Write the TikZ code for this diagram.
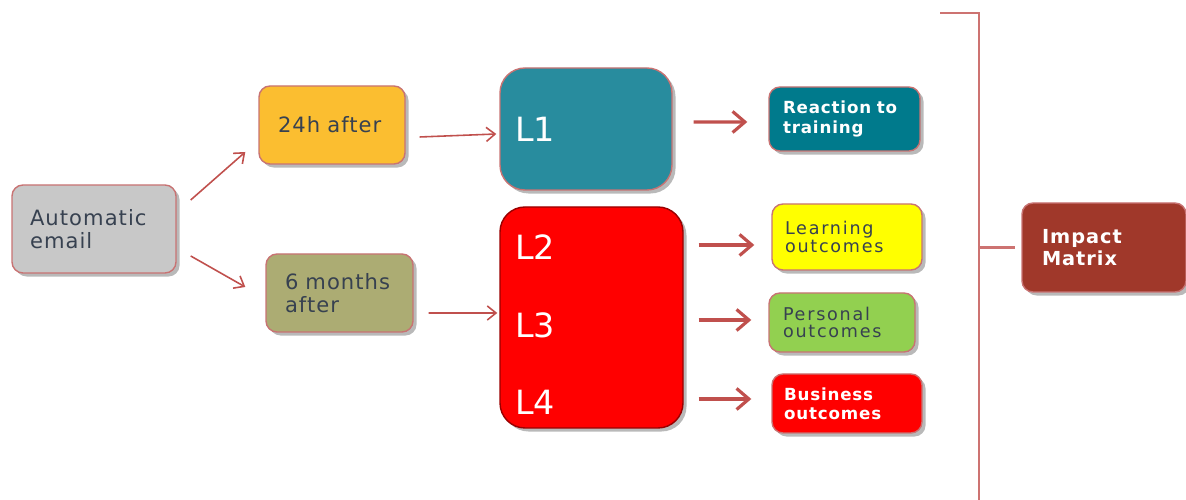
\documentclass[tikz,border=0pt]{standalone}
\usepackage{fontspec}
\setmainfont{DejaVu Sans}
\newfontfamily\boxfont[LetterSpace=5]{DejaVu Sans}
\newfontfamily\widefont[LetterSpace=10]{DejaVu Sans}
\usetikzlibrary{arrows.meta,calc,shadows}
\definecolor{autogray}{RGB}{200,200,200}
\definecolor{afterday}{RGB}{251,190,48}
\definecolor{aftermonth}{RGB}{172,172,115}
\definecolor{levelone}{RGB}{40,140,158}
\definecolor{levelred}{RGB}{255,0,0}
\definecolor{reactteal}{RGB}{0,122,140}
\definecolor{learnyellow}{RGB}{255,255,0}
\definecolor{persgreen}{RGB}{146,208,80}
\definecolor{impactred}{RGB}{160,56,42}
\definecolor{linkred}{RGB}{192,80,77}
\definecolor{edgered}{RGB}{200,115,115}
\definecolor{darktext}{RGB}{55,65,80}
\tikzset{
  box/.style={draw=edgered, line width=0.8pt, rounded corners=0.22cm, align=left,
    inner ysep=0pt, drop shadow={opacity=0.55, shadow xshift=2pt, shadow yshift=-2pt}},
  boxsize/.style n args={3}{text width=#1cm, inner xsep=#2cm, minimum height=#3cm},
  bigtext/.style={font=\boxfont\fontsize{12}{13}\selectfont, text=darktext},
  smalltext/.style={font=\widefont\fontsize{10}{10}\selectfont, text=darktext},
  boldtext/.style={font=\boxfont\bfseries\fontsize{9.5}{11}\selectfont, text=white},
  leveltext/.style={font=\fontsize{19}{22}\selectfont, text=white},
  thinlink/.style={draw=linkred, line width=0.9pt, -{Straight Barb[length=5pt,width=8pt]}},
  thicklink/.style={draw=linkred, line width=1.8pt, -{Straight Barb[length=7pt,width=12pt]}},
  bracket/.style={draw=linkred!80, line width=1.2pt}
}
\begin{document}
\begin{tikzpicture}
	\useasboundingbox (0,0) rectangle (23.72,10);
	\node (auto) at (1.88,5.42)[box, boxsize={2.56}{0.36}{1.76}, fill=autogray, bigtext] {Automatic\\email};
	\node (h24) at (6.64,7.5)[box, boxsize={2.16}{0.38}{1.56}, fill=afterday, bigtext] {24h after};
	\node (m6) at (6.79,4.14)[box, boxsize={2.18}{0.38}{1.56}, fill=aftermonth, bigtext] {6 months\\after};
	\node (L1) at (11.72,7.42)[box, rounded corners=0.5cm, boxsize={2.84}{0.3}{2.44}, fill=levelone, leveltext] {L1};
	\node (L24) at (11.83,3.65)[box, draw=red!60!black, rounded corners=0.5cm, minimum width=3.66cm, minimum height=4.42cm, fill=levelred] {};
	\node (l2) at (10.3,5.06)[anchor=west, inner sep=0pt, leveltext] {L2};
	\node (l3) at (10.3,3.5)[anchor=west, inner sep=0pt, leveltext] {L3};
	\node (l4) at (10.3,1.96)[anchor=west, inner sep=0pt, leveltext] {L4};
	\node (react) at (16.89,7.62)[box, boxsize={2.46}{0.28}{1.28}, fill=reactteal, boldtext] {Reaction to\\training};
	\node (learn) at (16.94,5.26)[box, boxsize={2.48}{0.26}{1.32}, fill=learnyellow, smalltext] {Learning\\outcomes};
	\node (pers) at (16.84,3.55)[box, boxsize={2.36}{0.28}{1.18}, fill=persgreen, smalltext] {Personal\\outcomes};
	\node (bus) at (16.94,1.93)[box, boxsize={2.52}{0.24}{1.18}, fill=levelred, boldtext] {Business\\outcomes};
	\node (impact) at (22.08,5.05)[box, boxsize={2.48}{0.4}{1.78}, fill=impactred, font=\boxfont\bfseries\fontsize{11}{12.5}\selectfont, text=white] {Impact\\Matrix};
	\draw[thinlink] ($(auto.east)+(0.28,0.58)$) -- ($(h24.west)+(-0.26,-0.54)$);
	\draw[thinlink] ($(auto.east)+(0.28,-0.54)$) -- ($(m6.west)+(-0.4,0.12)$);
	\draw[thinlink] ($(h24.east)+(0.28,-0.24)$) -- ($(L1.west)+(-0.06,-0.1)$);
	\draw[thinlink] ($(m6.east)+(0.3,-0.4)$) -- ($(L24.west)+(-0.04,0.09)$);
	\draw[thicklink] ($(L1.east)+(0.42,0.14)$) -- ($(react.west)+(-0.42,-0.06)$);
	\draw[thicklink] ($(L24.east|-learn.west)+(0.3,-0.16)$) -- ($(learn.west)+(-0.34,-0.16)$);
	\draw[thicklink] ($(L24.east|-pers.west)+(0.3,0.05)$) -- ($(pers.west)+(-0.34,0.05)$);
	\draw[thicklink] ($(L24.east|-bus.west)+(0.3,0.09)$) -- ($(bus.west)+(-0.4,0.09)$);
	\coordinate (btop) at (18.8,9.74);
	\coordinate (bbot) at (19.58,0);
	\draw[bracket] (btop) -| (bbot);
	\draw[bracket, shorten >=0.12cm] (bbot|-impact.west) -- (impact.west);
\end{tikzpicture}
\end{document}
